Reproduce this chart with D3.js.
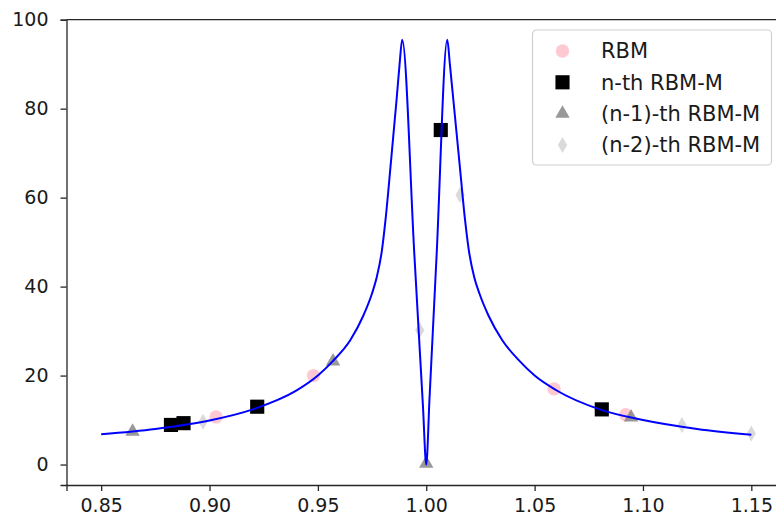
<!DOCTYPE html>
<html>
<head>
<meta charset="utf-8">
<script src="https://cdn.jsdelivr.net/npm/d3@7"></script>
<style>
  body { margin: 0; background: #fff; }
  text { font-family: "DejaVu Sans", sans-serif; fill: #1a1a1a; }
  .axis path, .axis line { stroke: #262626; stroke-width: 1.3; }
  .axis text { font-size: 19px; }
</style>
</head>
<body>
<div id="chart"></div>
<script>
// fitted curve
var curveX = [0.85, 0.875, 0.90, 0.92, 0.94, 0.95, 0.957, 0.965, 0.971, 0.975, 0.9771, 0.9795, 0.9812, 0.9837,
  0.9863, 0.9877, 0.9889, 0.9945, 0.9985, 1.0, 1.0015, 1.0048, 1.0097, 1.0109, 1.0125, 1.0153, 1.0179, 1.0197,
  1.0222, 1.0245, 1.0287, 1.035, 1.043, 1.05, 1.06, 1.08, 1.10, 1.125, 1.15];
var curveY = [6.8, 8.0, 9.9, 12.4, 16.6, 20.0, 23.3, 28.0, 33.5, 38.5, 42, 48, 55, 68,
  82, 90, 95.5, 47.3, 12.9, 0, 14.8, 47.3, 95.5, 90, 82, 68, 55, 48,
  42, 38.5, 33.5, 28.0, 23.3, 20.0, 16.7, 12.4, 10.0, 8.0, 6.7];

// scatter series
var rbmX = [0.903, 0.948, 1.059, 1.092];
var rbmY = [10.7, 20.0, 17.0, 11.2];
var nthX = [0.8822, 0.888, 0.922, 1.0067, 1.081];
var nthY = [8.9, 9.3, 13.0, 75.2, 12.4];
var n1X = [0.8645, 0.957, 1.0, 1.0945];
var n1Y = [7.4, 23.2, 0.2, 10.6];
var n2X = [0.897, 0.997, 1.0156, 1.118, 1.15];
var n2Y = [9.6, 30.2, 60.6, 8.9, 7.0];

var seriesNames = ["RBM", "n-th RBM-M", "(n-1)-th RBM-M", "(n-2)-th RBM-M"];
var xTicks = [0.85, 0.90, 0.95, 1.00, 1.05, 1.10, 1.15];
var yTicks = [0, 20, 40, 60, 80, 100];

var width = 776, height = 525;
var margin = { top: 19.7, left: 66.5, bottom: 485, right: 786 };

var svg = d3.select("#chart").append("svg")
  .attr("width", width)
  .attr("height", height);

var x = d3.scaleLinear().domain([0.834, 1.166]).range([margin.left, margin.right]);
var y = d3.scaleLinear().domain([-4.6, 100]).range([margin.bottom, margin.top]);

// scatter markers (under the line)
var styles = [
  { xs: rbmX, ys: rbmY, type: d3.symbolCircle, size: 140, fill: "#ffc0cb", opacity: 0.85 },
  { xs: nthX, ys: nthY, type: d3.symbolSquare, size: 200, fill: "#000000", opacity: 1 },
  { xs: n1X, ys: n1Y, type: d3.symbolTriangle, size: 90, fill: "#808080", opacity: 0.8 },
  { xs: n2X, ys: n2Y, type: d3.symbolDiamond, size: 74, fill: "#d3d3d3", opacity: 0.85 }
];

styles.forEach(function (s) {
  var pts = s.xs.map(function (d, i) { return [d, s.ys[i]]; });
  svg.append("g").selectAll("path")
    .data(pts)
    .join("path")
    .attr("transform", function (d) { return "translate(" + x(d[0]) + "," + y(d[1]) + ")"; })
    .attr("d", d3.symbol().type(s.type).size(s.size))
    .attr("fill", s.fill)
    .attr("fill-opacity", s.opacity);
});

// the curve
var line = d3.line()
  .x(function (d) { return x(d[0]); })
  .y(function (d) { return y(d[1]); })
  .curve(d3.curveMonotoneX);

svg.append("path")
  .datum(curveX.map(function (d, i) { return [d, curveY[i]]; }))
  .attr("d", line)
  .attr("fill", "none")
  .attr("stroke", "#0000ff")
  .attr("stroke-width", 2);

// axes
svg.append("g")
  .attr("class", "axis")
  .attr("transform", "translate(0," + margin.bottom + ")")
  .call(d3.axisBottom(x).tickValues(xTicks).tickFormat(d3.format(".2f")).tickSizeOuter(0).tickSize(6).tickPadding(8));

svg.append("g")
  .attr("class", "axis")
  .attr("transform", "translate(" + margin.left + ",0)")
  .call(d3.axisLeft(y).tickValues(yTicks).tickSizeOuter(0).tickSize(6).tickPadding(12));

// top spine
svg.append("line")
  .attr("x1", margin.left).attr("x2", margin.right)
  .attr("y1", margin.top).attr("y2", margin.top)
  .attr("stroke", "#262626").attr("stroke-width", 1.3);

// legend
var legend = svg.append("g").attr("transform", "translate(532.5,30)");
legend.append("rect")
  .attr("width", 239).attr("height", 135).attr("rx", 4)
  .attr("fill", "#fff").attr("fill-opacity", 0.8)
  .attr("stroke", "#d0d0d0").attr("stroke-width", 1.2);

var rows = legend.selectAll("g.row")
  .data(styles)
  .join("g")
  .attr("class", "row")
  .attr("transform", function (d, i) { return "translate(0," + (21 + i * 31.3) + ")"; });

rows.append("path")
  .attr("transform", "translate(30,0)")
  .attr("d", function (d) { return d3.symbol().type(d.type).size(d.size)(); })
  .attr("fill", function (d) { return d.fill; })
  .attr("fill-opacity", function (d) { return d.opacity; });

rows.append("text")
  .attr("x", 68.5)
  .attr("dy", "0.35em")
  .style("font-size", "21px")
  .text(function (d, i) { return seriesNames[i]; });
</script>
</body>
</html>
